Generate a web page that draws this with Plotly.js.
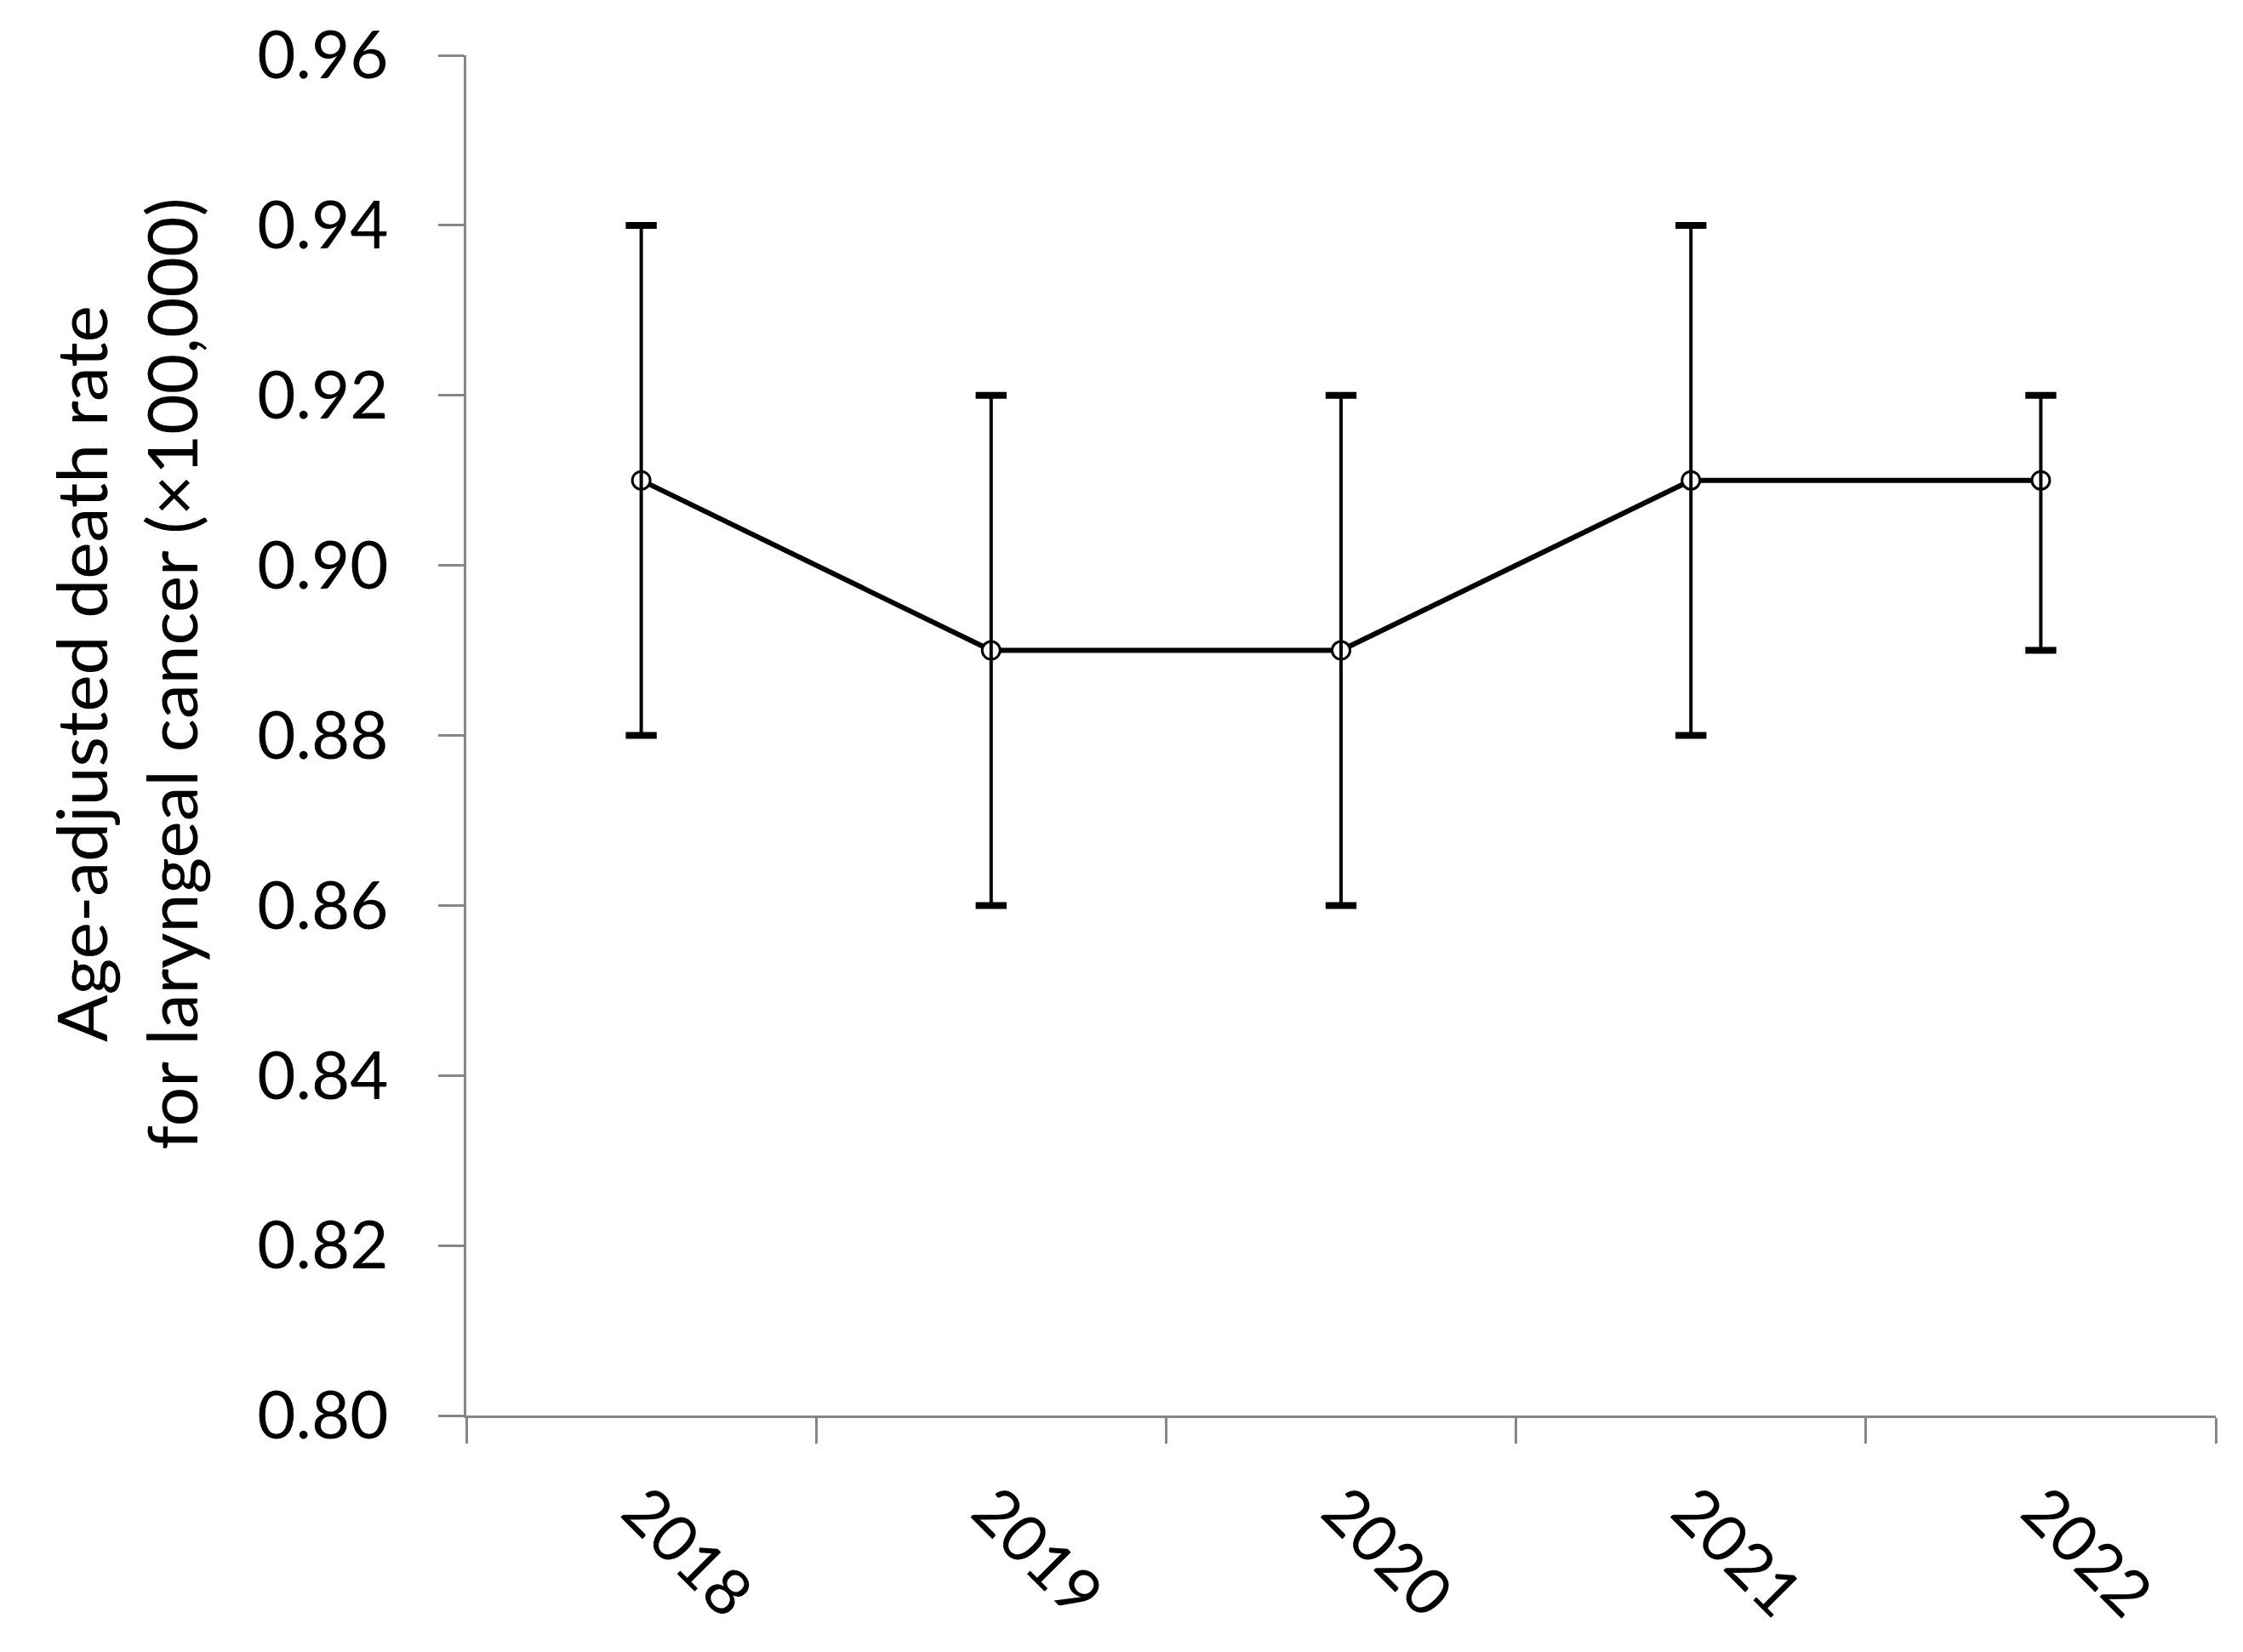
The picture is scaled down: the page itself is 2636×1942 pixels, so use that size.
<!DOCTYPE html>
<html>
<head>
<meta charset="utf-8">
<script src="https://cdn.plot.ly/plotly-3.0.1.min.js"></script>
<style>
  html, body { margin: 0; padding: 0; background: #ffffff; }
  #chart { width: 2636px; height: 1942px; }
</style>
</head>
<body>
<div id="chart"></div>
<script>
// ---- data ----
const years = ["2018", "2019", "2020", "2021", "2022"];
const rate = [0.91, 0.89, 0.89, 0.91, 0.91];
const upper = [0.94, 0.92, 0.92, 0.94, 0.92];
const lower = [0.88, 0.86, 0.86, 0.88, 0.89];
const yTickVals = [0.80, 0.82, 0.84, 0.86, 0.88, 0.90, 0.92, 0.94, 0.96];
const yTickText = ["0.80", "0.82", "0.84", "0.86", "0.88", "0.90", "0.92", "0.94", "0.96"];
const yTitle = "Age-adjusted death rate<br>for laryngeal cancer (×100,000)";

const FONT = "Lato, 'Open Sans', sans-serif";
const AXIS_GREY = "#868686";

const errPlus = upper.map((u, i) => u - rate[i]);
const errMinus = lower.map((l, i) => rate[i] - l);

const lineTrace = {
  type: "scatter",
  mode: "lines+markers",
  x: years,
  y: rate,
  line: { color: "#000000", width: 6 },
  marker: { symbol: "circle", size: 21, color: "#ffffff", line: { color: "#000000", width: 3 } },
  hoverinfo: "x+y",
  showlegend: false
};

const errTrace = {
  type: "scatter",
  mode: "markers",
  x: years,
  y: rate,
  marker: { size: 1, color: "rgba(0,0,0,0)" },
  error_y: {
    type: "data",
    symmetric: false,
    array: errPlus,
    arrayminus: errMinus,
    color: "#000000",
    thickness: 4,
    width: 0
  },
  hoverinfo: "skip",
  showlegend: false
};

const capTrace = {
  type: "scatter",
  mode: "markers",
  x: years.concat(years),
  y: upper.concat(lower),
  marker: { symbol: "line-ew", size: 26, line: { color: "#000000", width: 8 } },
  hoverinfo: "skip",
  showlegend: false
};

const layout = {
  width: 2636,
  height: 1942,
  paper_bgcolor: "#ffffff",
  plot_bgcolor: "#ffffff",
  margin: { l: 548, r: 32, t: 65, b: 278, pad: 0 },
  showlegend: false,
  font: { family: FONT, color: "#000000", size: 80 },
  xaxis: {
    type: "category",
    range: [-0.5, 4.5],
    tickmode: "array",
    tickvals: years,
    ticktext: years,
    tickson: "boundaries",
    ticks: "outside",
    ticklen: 30,
    tickwidth: 3,
    tickcolor: AXIS_GREY,
    tickangle: 45,
    tickfont: { family: FONT, size: 76, color: "#000000" },
    ticklabelstandoff: 34,
    showline: true,
    linecolor: AXIS_GREY,
    linewidth: 3,
    showgrid: false,
    zeroline: false,
    fixedrange: true
  },
  yaxis: {
    range: [0.80, 0.96],
    tickmode: "array",
    tickvals: yTickVals,
    ticktext: yTickText,
    ticks: "outside",
    ticklen: 30,
    tickwidth: 3,
    tickcolor: AXIS_GREY,
    tickfont: { family: FONT, size: 78, color: "#000000" },
    ticklabelstandoff: 43,
    showline: true,
    linecolor: AXIS_GREY,
    linewidth: 3,
    showgrid: false,
    zeroline: false,
    fixedrange: true
  },
  annotations: [{
    text: yTitle,
    xref: "paper",
    yref: "paper",
    x: -0.195,
    y: 0.545,
    xanchor: "center",
    yanchor: "middle",
    textangle: -90,
    showarrow: false,
    font: { family: FONT, size: 82, color: "#000000" }
  }]
};

Plotly.newPlot("chart", [lineTrace, errTrace, capTrace], layout, { displayModeBar: false, staticPlot: true });
</script>
</body>
</html>
